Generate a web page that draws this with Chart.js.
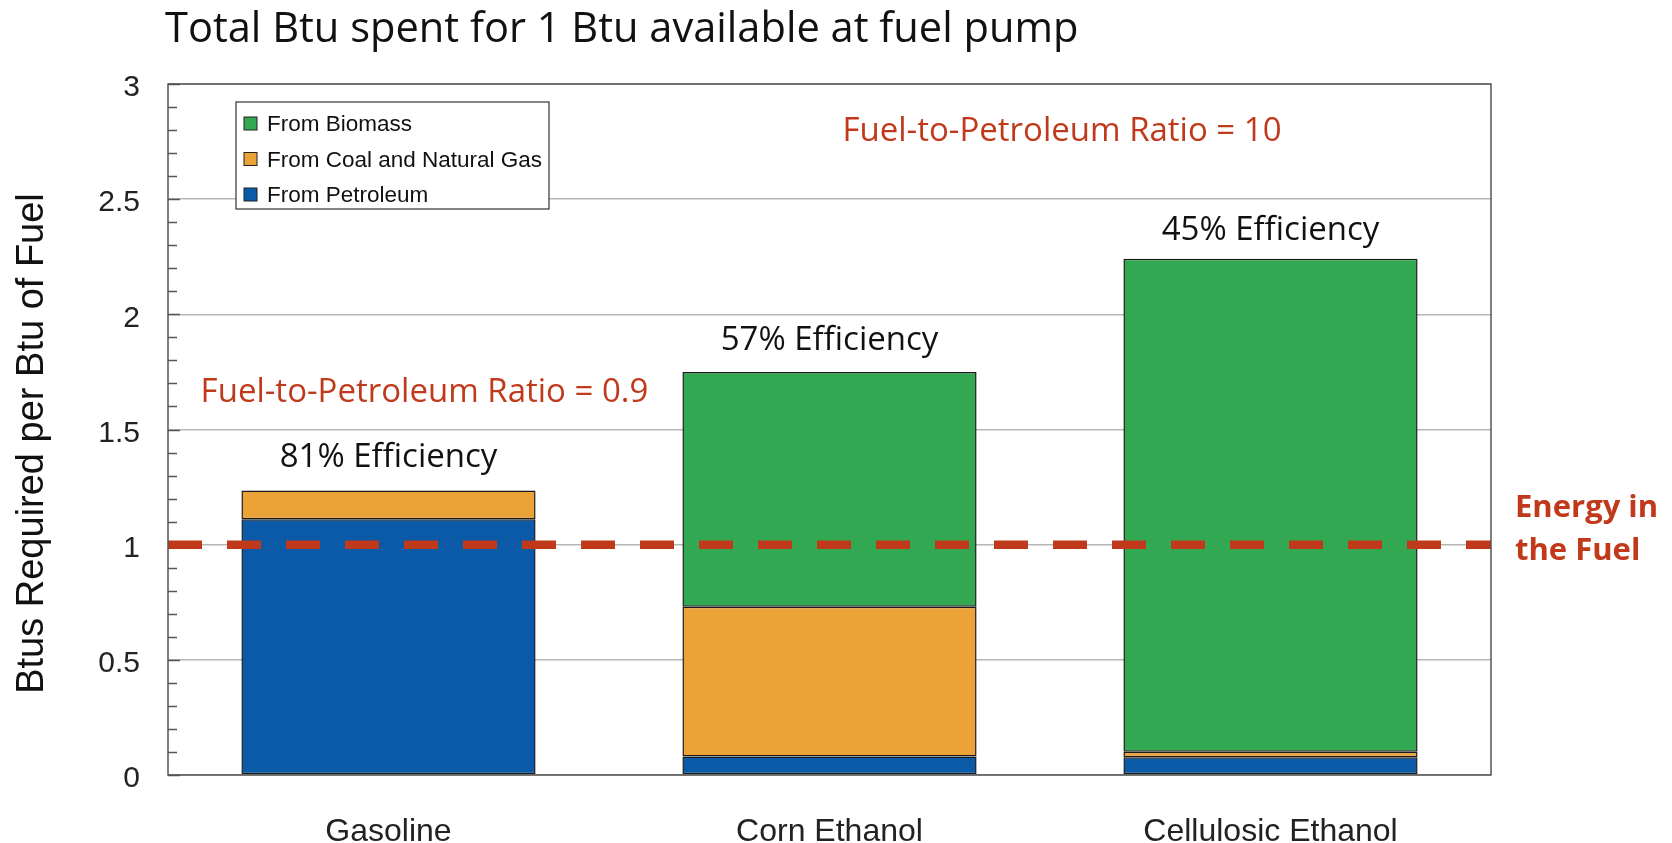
<!DOCTYPE html>
<html>
<head>
<meta charset="utf-8">
<script src="https://cdn.jsdelivr.net/npm/chart.js@4/dist/chart.umd.min.js"></script>
<style>
  body { margin: 0; background: #fff; }
  canvas { display: block; }
</style>
</head>
<body>
<canvas id="myChart" width="1672" height="843"></canvas>
<script>
// data
const categories = ['Gasoline', 'Corn Ethanol', 'Cellulosic Ethanol'];
const fromPetroleum = [1.11, 0.08, 0.077];
const fromCoalGas = [0.125, 0.65, 0.024];
const fromBiomass = [null, 1.02, 2.14];
const efficiencyLabels = ['81% Efficiency', '57% Efficiency', '45% Efficiency'];
const yTicks = [0, 0.5, 1, 1.5, 2, 2.5, 3];
const energyLine = 1;
const ratioNotes = [
	{ text: 'Fuel-to-Petroleum Ratio = 0.9', cat: 0, y: 1.66 },
	{ text: 'Fuel-to-Petroleum Ratio = 10', cat: 1.5, y: 2.795 }
];

const RED = '#c0391b';
const sansText = '"Open Sans", "Noto Sans", sans-serif';
const arial = '"Liberation Sans", Arial, sans-serif';
const labelGap = [33, 31, 28]; // px gap between bar top and its efficiency label

const extras = {
	id: 'extras',
	beforeDatasetsDraw(chart){
		const c = chart.ctx, a = chart.chartArea, y = chart.scales.y;
		c.save();
		// minor / major ticks inside the left axis
		c.strokeStyle = '#555';
		c.lineWidth = 1.5;
		for(let i = 0; i <= 30; i++){
			const py = Math.round(y.getPixelForValue(i / 10)) + 0.5;
			const len = (i % 5 == 0) ? 12 : 9;
			c.beginPath();
			c.moveTo(a.left, py);
			c.lineTo(a.left + len, py);
			c.stroke();
		}
		c.restore();
	},
	afterDatasetsDraw(chart){
		const c = chart.ctx, a = chart.chartArea, y = chart.scales.y, x = chart.scales.x;
		c.save();

		// dashed "energy in the fuel" line
		const ly = y.getPixelForValue(energyLine);
		c.strokeStyle = RED;
		c.lineWidth = 8.5;
		c.setLineDash([34, 25]);
		c.beginPath();
		c.moveTo(a.left, ly);
		c.lineTo(a.right, ly);
		c.stroke();
		c.setLineDash([]);

		// frame
		c.strokeStyle = '#555';
		c.lineWidth = 1.5;
		c.strokeRect(a.left, a.top, a.right - a.left, a.bottom - a.top);

		// efficiency labels above each stack
		c.fillStyle = '#111';
		c.font = '33px ' + sansText;
		c.textAlign = 'center';
		c.textBaseline = 'middle';
		categories.forEach((cat, i) => {
			const total = fromPetroleum[i] + fromCoalGas[i] + (fromBiomass[i] || 0);
			c.fillText(efficiencyLabels[i], x.getPixelForValue(i), y.getPixelForValue(total) - labelGap[i]);
		});

		// ratio notes
		c.fillStyle = RED;
		ratioNotes.forEach((n) => {
			const step = x.getPixelForValue(1) - x.getPixelForValue(0);
			const px = x.getPixelForValue(Math.floor(n.cat)) + (n.cat % 1) * step + (n.cat == 0 ? 36 : 12);
			c.fillText(n.text, px, y.getPixelForValue(n.y));
		});

		// energy in the fuel label
		c.font = 'bold 31px ' + sansText;
		c.textAlign = 'left';
		c.fillText('Energy in', a.right + 24, ly - 36);
		c.fillText('the Fuel', a.right + 24, ly + 7);

		// legend box
		const lx = a.left + 68, lyTop = a.top + 18, lw = 313, lh = 107;
		c.fillStyle = '#fff';
		c.fillRect(lx, lyTop, lw, lh);
		c.strokeStyle = '#333';
		c.lineWidth = 1.2;
		c.strokeRect(lx, lyTop, lw, lh);
		const items = chart.data.datasets.slice().reverse();
		c.font = '22.5px ' + arial;
		c.textBaseline = 'middle';
		items.forEach((ds, k) => {
			const cy = lyTop + 22 + k * 35.5;
			c.fillStyle = ds.backgroundColor;
			c.fillRect(lx + 8, cy - 7, 13, 13);
			c.strokeStyle = '#222';
			c.lineWidth = 1;
			c.strokeRect(lx + 8, cy - 7, 13, 13);
			c.fillStyle = '#111';
			c.fillText(ds.label, lx + 31, cy + 1);
		});

		// title
		c.font = '41.6px ' + sansText;
		c.fillStyle = '#111';
		c.textAlign = 'left';
		c.fillText('Total Btu spent for 1 Btu available at fuel pump', 165, 30);

		// y axis title
		c.translate(33, (a.top + a.bottom) / 2 + 14);
		c.rotate(-Math.PI / 2);
		c.textAlign = 'center';
		c.font = '38px ' + arial;
		c.fillText('Btus Required per Btu of Fuel', 0, 0);

		c.restore();
	}
};

const ctx = document.getElementById('myChart');

new Chart(ctx, {
	type: 'bar',
	data: {
		labels: categories,
		datasets: [
			{ label: 'From Petroleum', data: fromPetroleum, backgroundColor: '#0b5aa8' },
			{ label: 'From Coal and Natural Gas', data: fromCoalGas, backgroundColor: '#eba338' },
			{ label: 'From Biomass', data: fromBiomass, backgroundColor: '#33a852' }
		].map(d => Object.assign(d, { borderColor: '#1a1a1a', borderWidth: 1.5, borderSkipped: false, barPercentage: 0.667, categoryPercentage: 1 }))
	},
	options: {
		responsive: false,
		animation: false,
		layout: { padding: { top: 84, right: 181, left: 0, bottom: 0 } },
		plugins: { legend: { display: false }, tooltip: { enabled: false } },
		scales: {
			x: {
				stacked: true,
				grid: { display: false },
				border: { display: false },
				ticks: { color: '#222', font: { family: arial, size: 32 }, padding: 30 },
				afterFit: (s) => { s.height = 68; }
			},
			y: {
				stacked: true,
				min: 0,
				max: 3,
				afterBuildTicks: (s) => { s.ticks = yTicks.map(v => ({ value: v })); },
				ticks: { color: '#222', font: { family: arial, size: 30 }, padding: 28, labelOffset: 4, callback: (v) => String(v) },
				grid: { color: '#b5b5b5', lineWidth: 1.5, drawTicks: false },
				border: { display: false },
				afterFit: (s) => { s.width = 168; }
			}
		}
	},
	plugins: [extras]
});
</script>
</body>
</html>
